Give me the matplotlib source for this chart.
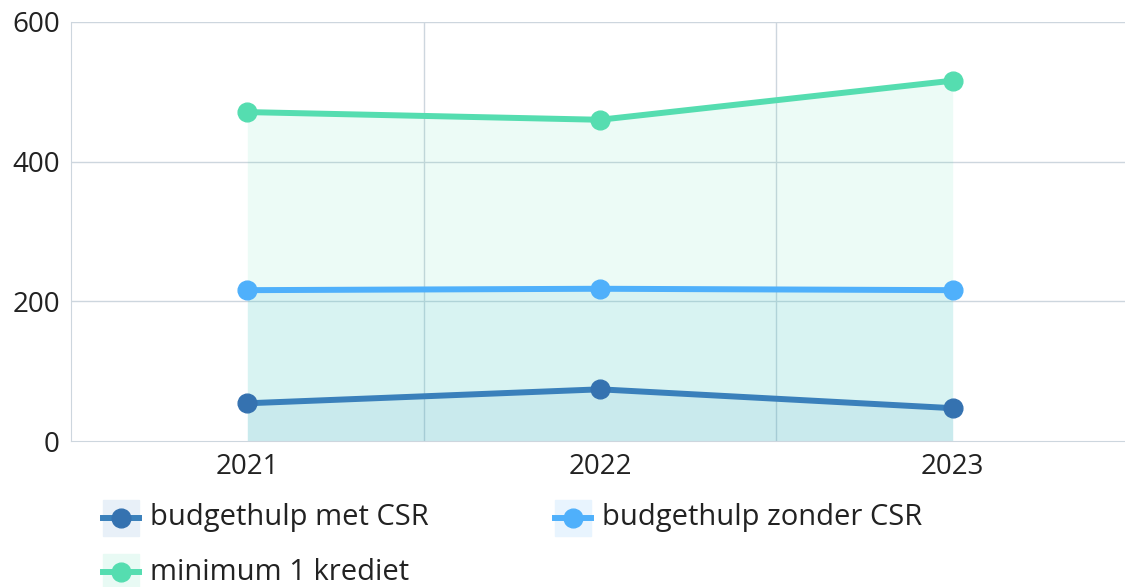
import matplotlib.pyplot as plt
from matplotlib.lines import Line2D
from matplotlib.patches import Rectangle

years = ['2021', '2022', '2023']
met_csr = [54, 74, 47]
zonder_csr = [216, 218, 216]
min_krediet = [471, 460, 516]

series = [
    ('budgethulp met CSR', met_csr, '#3a80bb', '#3572b0', '#3a90c0', 0.09),
    ('budgethulp zonder CSR', zonder_csr, '#4fb0fb', '#4fb0fb', '#4ac0d8', 0.12),
    ('minimum 1 krediet', min_krediet, '#55ddb0', '#55ddb0', '#55ddb0', 0.11),
]

plt.rcParams['font.family'] = ['Open Sans', 'DejaVu Sans']

fig = plt.figure(figsize=(11.25, 5.87), dpi=100)
ax = fig.add_axes([71 / 1125, 1 - 441 / 587, 1058 / 1125, 419 / 587])

x = [i + 0.5 for i in range(len(years))]

# areas first, back to front
for name, vals, lc, mc, fc, a in reversed(series):
    ax.fill_between(x, 0, vals, color=fc, alpha=a, linewidth=0, zorder=1)

for name, vals, lc, mc, fc, a in reversed(series):
    ax.plot(x, vals, color=lc, linewidth=4.3, zorder=3, solid_capstyle='round')
    ax.plot(x, vals, 'o', color=mc, markersize=13.5, zorder=4)

ax.set_xlim(0, 3)
ax.set_ylim(0, 600)
ax.set_xticks(x)
ax.set_xticklabels(years)
ax.set_yticks([0, 200, 400, 600])

grid_c = '#cdd6de'
for yy in [200, 400, 600]:
    ax.axhline(yy, color=grid_c, linewidth=1, zorder=0.5)
for xx in [1, 2]:
    ax.axvline(xx, color=grid_c, linewidth=1, zorder=0.5)

for s in ['top', 'right']:
    ax.spines[s].set_visible(False)
ax.spines['left'].set_color(grid_c)
ax.spines['bottom'].set_color(grid_c)
ax.tick_params(length=0, labelsize=20, colors='#222222', pad=9)
ax.tick_params(axis='y', pad=8)

# legend drawn by hand
legend_pos = [(103, 518), (555, 518), (103, 572)]
W, H = 1125, 587
bg = ['#e8f0f8', '#e8f4fe', '#e8faf4']
for (name, vals, lc, mc, fc, a), (px, py), b in zip(series, legend_pos, bg):
    fig.patches.append(Rectangle(((px) / W, 1 - (py + 18) / H), 36 / W, 36 / H,
                                 transform=fig.transFigure, color=b, zorder=1))
    fig.add_artist(Line2D([px / W, (px + 36) / W], [1 - py / H] * 2,
                          color=lc, linewidth=4.3, zorder=2))
    fig.add_artist(Line2D([(px + 18) / W], [1 - py / H], marker='o',
                          color=mc, markersize=13.5, zorder=3))
    fig.text((px + 47) / W, 1 - py / H, name, fontsize=21, color='#222222',
             va='center', ha='left')

fig.savefig('out.png', dpi=100)
